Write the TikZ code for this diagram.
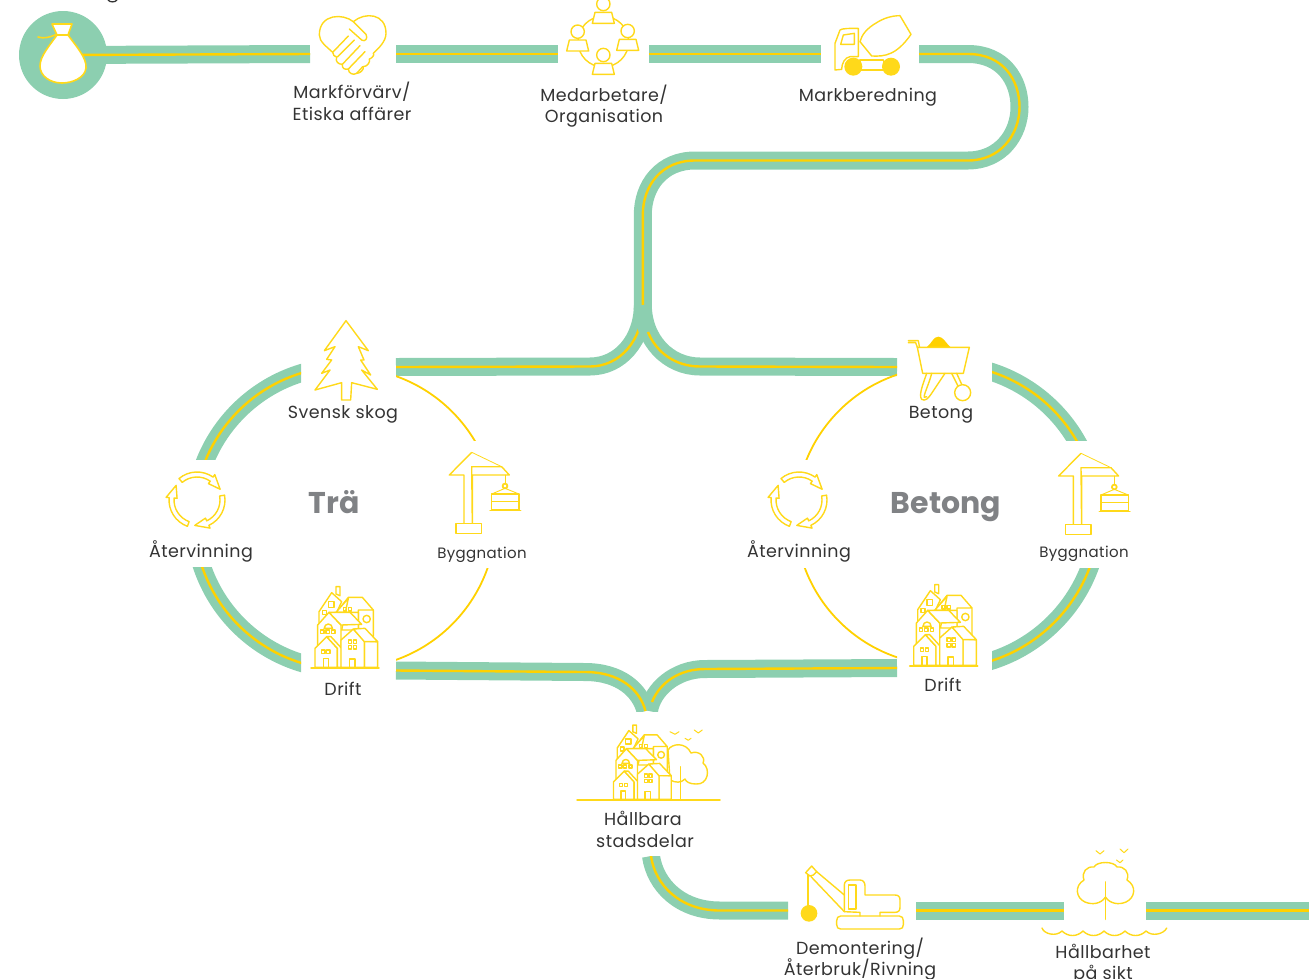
\documentclass[tikz,border=0pt]{standalone}
\usepackage{fontspec}
\setmainfont{Poppins}
\newfontfamily\labfont[LetterSpace=2.5]{Poppins}
\definecolor{bandg}{HTML}{8CCFB0}
\definecolor{lineY}{HTML}{FFD100}
\definecolor{iconY}{HTML}{FFD91A}
\definecolor{txt}{HTML}{333333}
\definecolor{headg}{HTML}{808285}
\newcommand\bandpath[1]{\draw[gband] #1; \draw[yband] #1;}
\tikzset{
  gband/.style={draw=bandg,line width=18pt},
  yband/.style={draw=lineY,line width=2.4pt},
  thinarc/.style={draw=lineY,line width=1.8pt},
  ic/.style={draw=iconY,line width=1.4pt,line join=round,fill=white},
  icl/.style={draw=iconY,line width=1.4pt,line join=round,line cap=round},
  lab/.style={text=txt,font=\labfont\fontsize{17.5}{20}\selectfont,inner sep=0pt,anchor=base,align=center},
  labs/.style={lab,font=\labfont\fontsize{15}{18}\selectfont},
  head/.style={text=headg,font=\fontsize{#1}{#1}\selectfont\bfseries,inner sep=0pt,anchor=base},
  sprucetree/.pic={
    \draw[ic] (618,32)--(685,122)--(655,110)--(672,150)--(662,150)--(692,195)--(665,180)--(712,238)--(635,218)--(632,270)--(605,270)--(605,218)--(525,240)--(570,180)--(545,190)--(575,150)--(560,148)--(585,110)--(553,122)--cycle;
  },
  crane/.pic={
    \draw[ic,fill=none] (471.7,452.3)--(449.3,475)--(464,475)--(464,523);
    \draw[ic,fill=none] (472.3,523)--(472.3,475)--(509.3,475)--(501.7,466.7)--(471.7,466.7)--cycle;
    \draw[ic,line width=.8pt,fill=none] (471.7,452.3)--(501.7,466.7);
    \draw[ic] (456,523.3) rectangle (481.7,533.3);
    \draw[icl,line width=.9pt] (505,475)--(505,483);
    \draw[icl,line width=1.8pt] (505,486) circle[radius=2.4];
    \draw[icl,line width=.9pt] (491.7,494)--(505,488.3)--(519,494);
    \draw[ic] (491.7,494) rectangle (519,510);
    \draw[icl] (491.7,501.7)--(519,501.7) (490,510.7)--(520.7,510.7);
  },
  recycler/.pic={
    \foreach \r in {0,120,240}{
      \draw[ic,rotate=\r] (-130:28) arc[start angle=-130,end angle=-55,radius=28] -- (-55:31) -- (-25:25.5) -- (-55:20) -- (-55:23) arc[start angle=-55,end angle=-130,radius=23] -- cycle;
    }
  },
  townhouses/.pic={
    \draw[ic] (108,80)--(130,52)--(172,52)--(205,90)--(205,170)--(160,170)--(160,90)--(205,90);
    \draw[icl] (185,117) circle[radius=11];
    \draw[ic] (93,42)--(93,20)--(105,20)--(105,47)--cycle;
    \draw[ic] (80,38)--(42,95)--(42,135)--(72,100)--(95,97)--(110,65)--cycle;
    \draw[ic] (130,55)--(93,97)--(160,97)--(160,150)--(110,150)--cycle;
    \draw[icl] (70,65) rectangle (87,82) (52,92) rectangle (64,104) (115,83) rectangle (125,93) (130,83) rectangle (140,93);
    \draw[ic] (72,97)--(38,135)--(38,205)--(108,205)--(108,135)--cycle;
    \draw[ic] (72,97)--(135,97)--(170,133)--(108,135)--cycle;
    \draw[icl] (57,145)--(83,145) (58,144) arc[start angle=180,end angle=360,radius=12];
    \draw[icl] (47,150) rectangle (57,160) (63,150) rectangle (73,160) (80,150) rectangle (90,160);
    \draw[ic] (65,170)--(30,205)--(30,262)--(97,262)--(97,205)--cycle;
    \draw[ic] (65,170)--(78,170)--(110,205)--(110,262)--(97,262)--(97,205)--cycle;
    \draw[icl] (50,210) rectangle (60,220) (65,210) rectangle (75,220);
    \draw[icl] (55,262)--(55,235)--(70,235)--(70,262);
    \draw[ic] (178,183)--(218,185)--(218,262)--(178,262)--cycle;
    \draw[ic] (145,147)--(108,180)--(108,262)--(178,262)--(178,183)--cycle;
    \draw[ic] (145,147)--(180,145)--(218,185)--(178,185)--cycle;
    \draw[icl] (130,180) rectangle (140,190) (145,180) rectangle (155,190) (130,197) rectangle (140,207) (145,197) rectangle (155,207);
    \draw[icl] (133,262)--(133,237)--(150,237)--(150,262);
    \draw[icl,line width=1.5pt] (18,264)--(222,264);
  },
  heart/.pic={
    \draw[icl] (130,50) .. controls (100,25) and (28,25) .. (28,90) .. controls (28,110) and (50,125) .. (68,142) .. controls (70,150) and (72,155) .. (80,156) .. controls (75,170) and (85,178) .. (97,178) .. controls (95,190) and (105,195) .. (115,192) .. controls (115,205) and (130,212) .. (140,205) .. controls (150,205) and (162,195) .. (160,185) .. controls (172,185) and (182,170) .. (178,162) .. controls (185,160) and (195,150) .. (190,145) .. controls (205,130) and (228,110) .. (228,85) .. controls (228,25) and (165,20) .. (130,50);
    \draw[icl] (130,50)--(168,88) .. controls (175,100) and (165,112) .. (155,105)--(118,72);
    \draw[icl] (68,142)--(115,93) (82,156)--(133,105) (97,178)--(150,122) (115,192)--(165,140) (140,205)--(158,185);
  },
  crew/.pic={
    \draw[icl] (220,125) circle[radius=76];
    \foreach \hx/\hy in {220/12,143/95,293/93,220/165}{
      \draw[ic] (\hx-33,\hy+58)--(\hx-25,\hy+25)--(\hx+25,\hy+25)--(\hx+33,\hy+58)--cycle;
      \draw[ic] (\hx,\hy) circle[radius=20];
    }
  },
  mixer/.pic={
    \draw[ic] (1040,68) .. controls (1010,85) and (995,105) .. (990,125) -- (1025,168) .. controls (1065,170) and (1100,165) .. (1143,103) -- (1110,47) .. controls (1085,47) and (1060,55) .. (1040,68);
    \draw[ic] (915,210)--(915,130)--(930,90) .. controls (935,85) and (960,85) .. (985,85)--(985,170)--(960,170) .. controls (945,172) and (935,190) .. (935,208)--cycle;
    \draw[icl] (932,133)--(940,105)--(973,100)--(973,133)--cycle;
    \draw[ic] (990,180) rectangle (1060,210);
    \fill[iconY] (970,200) circle[radius=27] (1083,200) circle[radius=27];
  },
  barrow/.pic={
    \fill[lineY] (560,82) .. controls (575,70) and (580,50) .. (595,50) .. controls (610,50) and (618,70) .. (632,82) -- cycle;
    \draw[icl] (505,62)--(535,62)--(552,160) (505,68)--(527,68)--(532,82);
    \draw[ic] (532,82)--(688,82)--(670,160)--(548,160)--cycle;
    \draw[icl] (560,160) .. controls (550,190) and (535,225) .. (545,238) .. controls (555,245) and (565,235) .. (575,220) -- (615,160);
    \draw[icl] (575,160) .. controls (568,190) and (550,225) .. (553,232) -- (560,230);
    \draw[icl] (635,160)--(655,200) (650,160)--(666,195);
    \draw[ic] (668,218) circle[radius=24];
  },
  wrecker/.pic={
    \fill[iconY] (27,160) circle[radius=25];
    \draw[icl,line width=1.6pt] (24,140)--(24,45);
    \draw[icl] (17,38)--(35,18)--(50,35)--(40,45)--(30,48)--cycle;
    \draw[icl] (50,35)--(133,105) (33,50)--(133,155)--(180,157)--(180,168);
    \draw[icl] (133,155)--(133,75) .. controls (133,65) and (140,60) .. (150,60)--(180,60) .. controls (190,60) and (195,68) .. (195,78)--(195,105)--(285,105) .. controls (295,105) and (300,110) .. (300,120)--(300,142) .. controls (300,152) and (295,157) .. (285,157)--(240,157)--(240,168);
    \draw[icl] (146,75) rectangle (168,147);
    \draw[icl] (122,168)--(298,168) .. controls (306,168) and (310,174) .. (310,182)--(310,194) .. controls (310,202) and (306,207) .. (298,207)--(122,207) .. controls (114,207) and (110,202) .. (110,194)--(110,182) .. controls (110,174) and (114,168) .. (122,168)--cycle;
  },
}
\begin{document}
\begin{tikzpicture}[x=1pt,y=-1pt]
\useasboundingbox (0,0) rectangle (1309,978);
\clip (0,0) rectangle (1309,978);
% clipped descender of a line above the picture
\draw[txt,line width=1.3pt] (108,0) .. controls (110,2.5) and (115,2.5) .. (117,0);

% named way-points
\node[circle,fill=bandg,minimum size=88pt,inner sep=0pt] (start) at (63,55) {};
\coordinate (a1) at (310,54); \coordinate (b0) at (396,54); \coordinate (b1) at (558,54);
\coordinate (c0) at (649,54); \coordinate (c1) at (821,54); \coordinate (d0) at (919,54);
\coordinate (d1) at (968,54); \coordinate (d2) at (1019.5,107); \coordinate (d3) at (968,160.5);
\coordinate (e0) at (695,160.5); \coordinate (e1) at (642.8,215); \coordinate (e2) at (642.8,305);
\coordinate (fl) at (590,366.5); \coordinate (trL) at (396,367);
\coordinate (fr) at (700,366.5); \coordinate (trR) at (897,367);
\coordinate (ringL) at (345.6,518); \coordinate (ringR) at (944.5,517);
\coordinate (ringRb) at (944.5,513); \coordinate (ringRi) at (944.5,516);
\coordinate (blL) at (396,670.5); \coordinate (blM) at (585,672); \coordinate (mergeL) at (645.5,711);
\coordinate (brR) at (897,668); \coordinate (brM) at (705,669); \coordinate (mergeR) at (649,711);
\coordinate (t0) at (651,856); \coordinate (t1) at (720,910.5); \coordinate (t2) at (788,910.5);
\coordinate (u0) at (916,910.5); \coordinate (u1) at (1064,910.5);
\coordinate (v0) at (1146,910.5); \coordinate (v1) at (1309,910.5);

% top row
\draw[gband] (start.center)--(a1);
\draw[yband] (start.center)--(a1);
\bandpath{(b0)--(b1)}
\bandpath{(c0)--(c1)}
\bandpath{(d0)--(d1) .. controls (1003,54) and (1019.5,80) .. (d2) .. controls (1019.5,135) and (1000,160.5) .. (d3)--(e0) .. controls (662,160.5) and (642.8,185) .. (e1)--(e2) .. controls (642.8,340) and (620,366.5) .. (fl)--(trL)}
\draw[gband] (e2) .. controls (643,340) and (668,366.5) .. (fr)--(trR);
\draw[yband] (648,332) .. controls (656,352) and (675,366.5) .. (fr)--(trR);

% left ring
\begin{scope}\clip (0,200) rectangle (301,459); \bandpath{(ringL) circle[radius=151.5]}\end{scope}
\begin{scope}\clip (0,567) rectangle (301,800); \bandpath{(ringL) circle[radius=151.5]}\end{scope}
\begin{scope}\clip (396,200) rectangle (600,440); \draw[thinarc] (ringL) circle[radius=150.5];\end{scope}
\begin{scope}\clip (396,568) rectangle (600,800); \draw[thinarc] (ringL) circle[radius=150.5];\end{scope}

% right ring
\begin{scope}\clip (992,200) rectangle (1300,440); \bandpath{(ringR) circle[radius=152.5]}\end{scope}
\begin{scope}\clip (992,568) rectangle (1300,800); \bandpath{(ringRb) circle[radius=155]}\end{scope}
\begin{scope}\clip (700,200) rectangle (897,459); \draw[thinarc] (ringRi) circle[radius=149];\end{scope}
\begin{scope}\clip (700,568) rectangle (897,800); \draw[thinarc] (ringRi) circle[radius=149];\end{scope}

% lower merge
\begin{scope}\clip (380,640) rectangle (900,711);
\draw[gband] (blL)--(blM) .. controls (620,672) and (640,690) .. (mergeL);
\draw[gband] (brR)--(brM) .. controls (675,669) and (652,690) .. (mergeR);
\draw[yband] (blL)--(blM) .. controls (620,672) and (640,690) .. (mergeL);
\draw[yband] (brR)--(brM) .. controls (680,669) and (660,682) .. (652,702);
\end{scope}

% tail
\begin{scope}\clip (600,856) rectangle (1309,940);
\bandpath{(t0) .. controls (655,885) and (680,910.5) .. (t1)--(t2)}
\end{scope}
\bandpath{(u0)--(u1)}
\bandpath{(v0)--(v1)}

% icons
\draw[ic,line width=1.6pt] (52,24)--(72,24)--(68,35) .. controls (76,46) and (87,58) .. (86,68) .. controls (85,78) and (72,83) .. (62,83) .. controls (50,83) and (40,76) .. (40,66) .. controls (40,56) and (50,45) .. (57,35)--cycle;
\draw[icl,line width=1.6pt] (38,37) .. controls (44,39) and (50,37) .. (55,35)--(69,35);
\pic[scale=1/3] at (310,5) {heart};
\pic[scale=1/3] at (530,0) {crew};
\pic[scale=1/3] at (530,0) {mixer};
\pic[scale=1/3] at (140,310) {sprucetree};
\pic at (0,0) {crane};
\pic at (609.3,1) {crane};
\pic at (197,500) {recycler};
\pic at (799,500) {recycler};
\pic[scale=1/3] at (305,580) {townhouses};
\pic[scale=1/3] at (903.7,578) {townhouses};
\pic[scale=1/3] at (740,320) {barrow};
% Hallbara stadsdelar
\draw[ic] (668,750) .. controls (672,743) and (686,742) .. (691,753) .. controls (699,750) and (706,757) .. (703,763) .. controls (711,769) and (708,785) .. (696,784) .. controls (690,784) and (686,782) .. (685,779) .. controls (681,783) and (676,783) .. (670,780) -- cycle;
\draw[icl] (680.7,766.7)--(680.7,799.3);
\pic[scale=.307] at (604.3,718.9) {townhouses};
\draw[icl,line width=1.5pt] (577,800)--(720,800);
\draw[icl,line width=1pt] (670,731.7)--(675,734.3)--(679,731.7) (685,738.3)--(688.3,740.3)--(691,738.3) (694.3,730)--(698.3,733)--(702.3,730);
\pic[scale=1/3] at (800,860) {wrecker};
% Hallbarhet
\draw[icl] (1105.5,897) .. controls (1101,904) and (1092,905) .. (1085,902) .. controls (1076,898) and (1074,886) .. (1084,880) .. controls (1081,872) and (1087,866) .. (1094,867) .. controls (1097,861) and (1114,861) .. (1117,867) .. controls (1124,866) and (1130,872) .. (1127,880) .. controls (1137,886) and (1135,898) .. (1126,902) .. controls (1119,905) and (1110,904) .. (1105.5,897);
\draw[icl,line width=1.6pt] (1105.5,882)--(1105.5,919.3);
\draw[icl,line width=1pt] (1096,850.7)--(1100,854)--(1104,850.7) (1120,849)--(1124,852.7)--(1128,849) (1116.5,860)--(1120,862.7)--(1123,860);
\draw[icl] (1042,928) .. controls (1044,934) and (1056,937) .. (1062,931) .. controls (1068,937) and (1077,937) .. (1083,931) .. controls (1089,937) and (1098,937) .. (1104,931) .. controls (1110,937) and (1119,937) .. (1125,931) .. controls (1131,937) and (1140,937) .. (1146,931) .. controls (1152,937) and (1164,934) .. (1166.7,928);

% labels
\node[lab] (m1) at (352,98.7) {Markförvärv/};
\node[lab] (m2) at (352,120.7) {Etiska affärer};
\node[lab] (o1) at (604,101) {Medarbetare/};
\node[lab] (o2) at (604,122) {Organisation};
\node[lab] (mb) at (868,101) {Markberedning};
\node[lab] (ss) at (343,418.3) {Svensk skog};
\node[lab] (al) at (201,557.3) {Återvinning};
\node[labs] (byl) at (482,558.3) {Byggnation};
\node[lab] (drl) at (343,695.7) {Drift};
\node[head=30] (tra) at (334,513.3) {Trä};
\node[head=30] (bet) at (946,513.3) {Betong};
\node[lab] (bs) at (941,418.3) {Betong};
\node[lab] (ar) at (799,557.3) {Återvinning};
\node[labs] (byr) at (1084,557.3) {Byggnation};
\node[lab] (drr) at (943,691.7) {Drift};
\node[lab] (h1) at (643,825) {Hållbara};
\node[lab] (h2) at (645,847.3) {stadsdelar};
\node[lab] (d1t) at (860,954) {Demontering/};
\node[lab] (d2t) at (860,975) {Återbruk/Rivning};
\node[lab] (s1) at (1103,958.3) {Hållbarhet};
\node[lab] (s2) at (1103,979) {på sikt};
\end{tikzpicture}
\end{document}
